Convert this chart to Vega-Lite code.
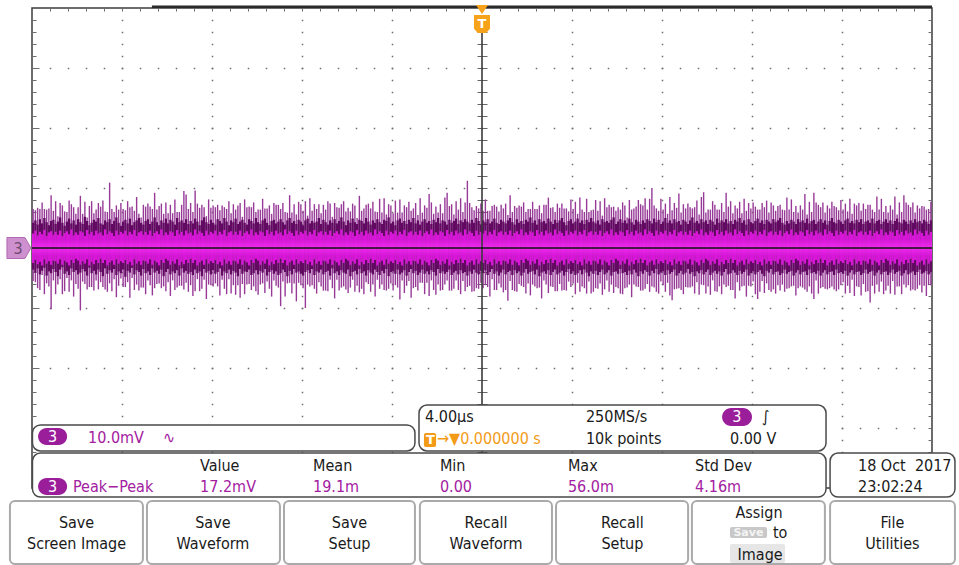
{
"$schema":"https://vega.github.io/schema/vega-lite/v6.json",
"width":900,"height":480,
"autosize":{"type":"none"},
"padding":{"left":32,"top":8,"right":27,"bottom":77},
"background":"#ffffff",
"config":{"view":{"stroke":"#3c3c3c","strokeWidth":1.5},"axis":{"labels":false,"domain":false,"ticks":false,"grid":false}},
"resolve":{"axis":{"x":"independent","y":"independent"}},
"datasets":{
"wave":[
{"t":-19.95,"a":6.5,"b":-5.5,"c":4.2,"d":-3.6,"e":2.4,"f":-2.5},{"t":-19.85,"a":6.3,"b":-5.7,"c":4.6,"d":-4.1,"e":2.9,"f":-2.0},{"t":-19.75,"a":6.7,"b":-6.7,"c":3.9,"d":-3.4,"e":2.1,"f":-2.7},{"t":-19.65,"a":6.5,"b":-7.0,"c":4.8,"d":-4.4,"e":2.7,"f":-2.3},{"t":-19.55,"a":7.6,"b":-4.5,"c":4.1,"d":-3.8,"e":2.3,"f":-2.9},{"t":-19.45,"a":6.5,"b":-7.7,"c":5.0,"d":-3.3,"e":3.0,"f":-1.9},{"t":-19.35,"a":6.4,"b":-5.9,"c":4.3,"d":-4.6,"e":2.0,"f":-2.6},{"t":-19.25,"a":6.6,"b":-6.4,"c":3.8,"d":-3.9,"e":2.6,"f":-2.2},{"t":-19.15,"a":8.8,"b":-10.2,"c":4.5,"d":-4.2,"e":2.8,"f":-2.8},{"t":-19.05,"a":6.2,"b":-5.4,"c":4.7,"d":-3.5,"e":2.2,"f":-2.1},
{"t":-18.95,"a":7.8,"b":-7.7,"c":4.0,"d":-4.0,"e":2.7,"f":-2.2},{"t":-18.85,"a":5.3,"b":-6.1,"c":4.4,"d":-4.7,"e":2.2,"f":-2.6},{"t":-18.75,"a":7.5,"b":-5.2,"c":5.1,"d":-3.6,"e":2.9,"f":-1.9},{"t":-18.65,"a":7.1,"b":-7.7,"c":4.2,"d":-3.2,"e":2.0,"f":-2.8},{"t":-18.55,"a":6.1,"b":-7.2,"c":3.7,"d":-4.3,"e":2.5,"f":-2.1},{"t":-18.45,"a":6.0,"b":-5.0,"c":4.4,"d":-3.9,"e":2.8,"f":-2.4},{"t":-18.35,"a":7.9,"b":-7.3,"c":4.9,"d":-4.5,"e":2.3,"f":-2.9},{"t":-18.25,"a":7.3,"b":-5.4,"c":4.1,"d":-3.4,"e":3.1,"f":-2.0},{"t":-18.15,"a":6.8,"b":-8.1,"c":4.6,"d":-4.0,"e":2.1,"f":-2.5},{"t":-18.05,"a":5.7,"b":-6.0,"c":3.9,"d":-3.7,"e":2.6,"f":-1.8},
{"t":-17.95,"a":6.8,"b":-6.8,"c":4.8,"d":-4.4,"e":2.2,"f":-2.1},{"t":-17.85,"a":8.7,"b":-10.4,"c":4.3,"d":-4.1,"e":2.8,"f":-2.8},{"t":-17.75,"a":5.7,"b":-5.6,"c":4.0,"d":-3.5,"e":2.6,"f":-2.2},{"t":-17.65,"a":7.7,"b":-6.0,"c":5.2,"d":-3.9,"e":2.0,"f":-2.6},{"t":-17.55,"a":5.1,"b":-6.9,"c":4.5,"d":-4.6,"e":3.0,"f":-1.9},{"t":-17.45,"a":7.0,"b":-6.5,"c":3.8,"d":-3.3,"e":2.3,"f":-2.9},{"t":-17.35,"a":7.8,"b":-6.5,"c":4.2,"d":-4.2,"e":2.7,"f":-2.3},{"t":-17.25,"a":5.8,"b":-7.1,"c":4.7,"d":-3.8,"e":2.1,"f":-2.7},{"t":-17.15,"a":6.4,"b":-5.4,"c":4.4,"d":-4.4,"e":2.9,"f":-2.0},{"t":-17.05,"a":7.5,"b":-6.9,"c":5.0,"d":-3.6,"e":2.4,"f":-2.5},
{"t":-16.95,"a":6.9,"b":-5.7,"c":4.1,"d":-4.0,"e":2.6,"f":-1.8},{"t":-16.85,"a":7.9,"b":-6.5,"c":3.9,"d":-4.7,"e":2.1,"f":-2.5},{"t":-16.75,"a":6.1,"b":-6.9,"c":4.6,"d":-3.4,"e":3.1,"f":-2.0},{"t":-16.65,"a":6.0,"b":-7.3,"c":4.3,"d":-4.3,"e":2.3,"f":-2.9},{"t":-16.55,"a":10.9,"b":-5.9,"c":4.8,"d":-3.7,"e":2.8,"f":-2.4},{"t":-16.45,"a":6.5,"b":-7.2,"c":4.0,"d":-4.1,"e":2.5,"f":-2.1},{"t":-16.35,"a":6.0,"b":-5.2,"c":4.5,"d":-3.5,"e":2.0,"f":-2.8},{"t":-16.25,"a":7.1,"b":-8.2,"c":5.1,"d":-4.5,"e":2.9,"f":-1.9},{"t":-16.15,"a":6.4,"b":-6.3,"c":4.2,"d":-3.9,"e":2.2,"f":-2.6},{"t":-16.05,"a":7.5,"b":-5.1,"c":3.7,"d":-4.2,"e":2.7,"f":-2.2},
{"t":-15.95,"a":6.5,"b":-6.5,"c":4.4,"d":-3.6,"e":2.4,"f":-2.5},{"t":-15.85,"a":6.3,"b":-6.5,"c":4.7,"d":-4.8,"e":2.9,"f":-2.0},{"t":-15.75,"a":7.8,"b":-5.7,"c":4.1,"d":-3.8,"e":2.1,"f":-2.7},{"t":-15.65,"a":6.8,"b":-8.3,"c":4.9,"d":-4.1,"e":2.7,"f":-2.3},{"t":-15.55,"a":6.9,"b":-5.0,"c":3.8,"d":-3.3,"e":2.3,"f":-2.9},{"t":-15.45,"a":6.2,"b":-7.0,"c":4.3,"d":-4.4,"e":3.0,"f":-1.9},{"t":-15.35,"a":8.5,"b":-6.1,"c":4.6,"d":-3.7,"e":2.0,"f":-2.6},{"t":-15.25,"a":5.7,"b":-7.1,"c":5.0,"d":-4.0,"e":2.6,"f":-2.2},{"t":-15.15,"a":5.1,"b":-6.6,"c":4.2,"d":-4.6,"e":2.8,"f":-2.8},{"t":-15.05,"a":7.2,"b":-6.6,"c":3.9,"d":-3.5,"e":2.2,"f":-2.1},
{"t":-14.95,"a":6.9,"b":-7.7,"c":4.5,"d":-4.2,"e":2.7,"f":-2.2},{"t":-14.85,"a":7.4,"b":-5.4,"c":4.8,"d":-3.9,"e":2.2,"f":-2.6},{"t":-14.75,"a":6.9,"b":-6.2,"c":4.0,"d":-4.5,"e":2.9,"f":-1.9},{"t":-14.65,"a":6.5,"b":-7.9,"c":4.4,"d":-3.4,"e":2.0,"f":-2.8},{"t":-14.55,"a":9.2,"b":-6.7,"c":5.1,"d":-4.1,"e":2.5,"f":-2.1},{"t":-14.45,"a":6.4,"b":-6.0,"c":4.3,"d":-3.8,"e":2.8,"f":-2.4},{"t":-14.35,"a":7.0,"b":-5.9,"c":3.8,"d":-4.3,"e":2.3,"f":-2.9},{"t":-14.25,"a":7.4,"b":-6.7,"c":4.6,"d":-3.6,"e":3.1,"f":-2.0},{"t":-14.15,"a":5.7,"b":-6.4,"c":4.2,"d":-4.7,"e":2.1,"f":-2.5},{"t":-14.05,"a":7.6,"b":-7.2,"c":4.9,"d":-4.0,"e":2.6,"f":-1.8},
{"t":-13.95,"a":5.8,"b":-5.7,"c":4.1,"d":-3.5,"e":2.2,"f":-2.1},{"t":-13.85,"a":7.2,"b":-8.0,"c":4.7,"d":-4.4,"e":2.8,"f":-2.8},{"t":-13.75,"a":5.8,"b":-5.4,"c":4.4,"d":-3.9,"e":2.6,"f":-2.2},{"t":-13.65,"a":8.1,"b":-7.0,"c":3.9,"d":-4.2,"e":2.0,"f":-2.6},{"t":-13.55,"a":6.0,"b":-6.6,"c":5.0,"d":-3.7,"e":3.0,"f":-1.9},{"t":-13.45,"a":6.0,"b":-6.3,"c":4.3,"d":-4.6,"e":2.3,"f":-2.9},{"t":-13.35,"a":7.2,"b":-6.3,"c":4.6,"d":-3.4,"e":2.7,"f":-2.3},{"t":-13.25,"a":9.5,"b":-6.9,"c":4.2,"d":-4.1,"e":2.1,"f":-2.7},{"t":-13.15,"a":8.9,"b":-5.8,"c":4.8,"d":-3.8,"e":2.9,"f":-2.0},{"t":-13.05,"a":6.5,"b":-7.3,"c":4.0,"d":-4.3,"e":2.4,"f":-2.5},
{"t":-12.95,"a":7.5,"b":-6.2,"c":4.5,"d":-4.0,"e":2.6,"f":-1.8},{"t":-12.85,"a":6.0,"b":-8.0,"c":4.1,"d":-4.5,"e":2.1,"f":-2.5},{"t":-12.75,"a":9.6,"b":-7.2,"c":4.9,"d":-3.6,"e":3.1,"f":-2.0},{"t":-12.65,"a":7.4,"b":-5.2,"c":4.4,"d":-4.2,"e":2.3,"f":-2.9},{"t":-12.55,"a":6.7,"b":-7.2,"c":3.8,"d":-3.9,"e":2.8,"f":-2.4},{"t":-12.45,"a":7.2,"b":-6.8,"c":4.6,"d":-4.7,"e":2.5,"f":-2.1},{"t":-12.35,"a":6.8,"b":-5.3,"c":5.1,"d":-3.5,"e":2.0,"f":-2.8},{"t":-12.25,"a":5.3,"b":-8.5,"c":4.3,"d":-4.1,"e":2.9,"f":-1.9},{"t":-12.15,"a":8.1,"b":-6.1,"c":4.0,"d":-3.8,"e":2.2,"f":-2.6},{"t":-12.05,"a":6.7,"b":-6.2,"c":4.7,"d":-4.4,"e":2.7,"f":-2.2},
{"t":-11.95,"a":7.1,"b":-6.4,"c":4.2,"d":-3.7,"e":2.4,"f":-2.5},{"t":-11.85,"a":6.8,"b":-5.9,"c":3.9,"d":-4.3,"e":2.9,"f":-2.0},{"t":-11.75,"a":7.2,"b":-6.4,"c":4.8,"d":-4.0,"e":2.1,"f":-2.7},{"t":-11.65,"a":6.3,"b":-7.9,"c":4.5,"d":-3.4,"e":2.7,"f":-2.3},{"t":-11.55,"a":7.1,"b":-5.3,"c":4.1,"d":-4.6,"e":2.3,"f":-2.9},{"t":-11.45,"a":6.8,"b":-6.8,"c":5.0,"d":-3.9,"e":3.0,"f":-1.9},{"t":-11.35,"a":6.5,"b":-7.7,"c":4.4,"d":-4.2,"e":2.0,"f":-2.6},{"t":-11.25,"a":7.8,"b":-5.2,"c":3.8,"d":-3.6,"e":2.6,"f":-2.2},{"t":-11.15,"a":5.8,"b":-7.6,"c":4.6,"d":-4.4,"e":2.8,"f":-2.8},{"t":-11.05,"a":7.3,"b":-6.2,"c":4.3,"d":-3.8,"e":2.2,"f":-2.1},
{"t":-10.95,"a":6.4,"b":-7.8,"c":4.9,"d":-4.1,"e":2.7,"f":-2.2},{"t":-10.85,"a":7.1,"b":-6.2,"c":4.0,"d":-4.7,"e":2.2,"f":-2.6},{"t":-10.75,"a":7.5,"b":-8.3,"c":4.4,"d":-3.5,"e":2.9,"f":-1.9},{"t":-10.65,"a":5.2,"b":-6.0,"c":4.7,"d":-4.3,"e":2.0,"f":-2.8},{"t":-10.55,"a":8.1,"b":-7.7,"c":4.2,"d":-3.9,"e":2.5,"f":-2.1},{"t":-10.45,"a":6.8,"b":-6.1,"c":3.9,"d":-4.0,"e":2.8,"f":-2.4},{"t":-10.35,"a":6.9,"b":-6.0,"c":4.8,"d":-3.6,"e":2.3,"f":-2.9},{"t":-10.25,"a":6.8,"b":-7.0,"c":4.5,"d":-4.5,"e":3.1,"f":-2.0},{"t":-10.15,"a":7.6,"b":-6.4,"c":4.1,"d":-4.2,"e":2.1,"f":-2.5},{"t":-10.05,"a":6.0,"b":-7.2,"c":5.0,"d":-3.7,"e":2.6,"f":-1.8},
{"t":-9.95,"a":6.4,"b":-7.8,"c":4.3,"d":-4.4,"e":2.2,"f":-2.1},{"t":-9.85,"a":6.4,"b":-6.1,"c":4.0,"d":-3.8,"e":2.8,"f":-2.8},{"t":-9.75,"a":8.2,"b":-5.9,"c":4.6,"d":-4.1,"e":2.6,"f":-2.2},{"t":-9.65,"a":6.6,"b":-7.5,"c":4.9,"d":-3.5,"e":2.0,"f":-2.6},{"t":-9.55,"a":6.6,"b":-5.6,"c":4.2,"d":-4.6,"e":3.0,"f":-1.9},{"t":-9.45,"a":7.1,"b":-6.8,"c":3.8,"d":-4.0,"e":2.3,"f":-2.9},{"t":-9.35,"a":5.7,"b":-8.1,"c":4.5,"d":-3.7,"e":2.7,"f":-2.3},{"t":-9.25,"a":7.5,"b":-5.4,"c":4.7,"d":-4.3,"e":2.1,"f":-2.7},{"t":-9.15,"a":7.2,"b":-6.3,"c":4.1,"d":-3.9,"e":2.9,"f":-2.0},{"t":-9.05,"a":7.2,"b":-6.6,"c":4.4,"d":-4.5,"e":2.4,"f":-2.5},
{"t":-8.95,"a":6.5,"b":-9.7,"c":4.8,"d":-4.2,"e":2.6,"f":-1.8},{"t":-8.85,"a":7.5,"b":-5.6,"c":4.3,"d":-3.6,"e":2.1,"f":-2.5},{"t":-8.75,"a":6.0,"b":-8.1,"c":3.9,"d":-4.0,"e":3.1,"f":-2.0},{"t":-8.65,"a":5.9,"b":-5.9,"c":4.6,"d":-4.7,"e":2.3,"f":-2.9},{"t":-8.55,"a":8.8,"b":-5.8,"c":5.0,"d":-3.8,"e":2.8,"f":-2.4},{"t":-8.45,"a":5.9,"b":-7.6,"c":4.2,"d":-4.4,"e":2.5,"f":-2.1},{"t":-8.35,"a":7.3,"b":-5.9,"c":4.5,"d":-3.5,"e":2.0,"f":-2.8},{"t":-8.25,"a":5.6,"b":-8.9,"c":4.0,"d":-4.1,"e":2.9,"f":-1.9},{"t":-8.15,"a":7.7,"b":-5.8,"c":4.7,"d":-3.9,"e":2.2,"f":-2.6},{"t":-8.05,"a":7.3,"b":-6.2,"c":4.4,"d":-4.3,"e":2.7,"f":-2.2},
{"t":-7.95,"a":6.2,"b":-6.7,"c":3.8,"d":-4.6,"e":2.4,"f":-2.5},{"t":-7.85,"a":7.8,"b":-10.0,"c":4.6,"d":-4.0,"e":2.9,"f":-2.0},{"t":-7.75,"a":5.4,"b":-6.1,"c":4.9,"d":-3.7,"e":2.1,"f":-2.7},{"t":-7.65,"a":8.3,"b":-6.4,"c":4.1,"d":-4.2,"e":2.7,"f":-2.3},{"t":-7.55,"a":6.2,"b":-6.2,"c":4.5,"d":-3.5,"e":2.3,"f":-2.9},{"t":-7.45,"a":7.3,"b":-6.8,"c":4.2,"d":-4.5,"e":3.0,"f":-1.9},{"t":-7.35,"a":6.5,"b":-7.6,"c":4.4,"d":-3.9,"e":2.0,"f":-2.6},{"t":-7.25,"a":7.3,"b":-5.7,"c":5.0,"d":-4.1,"e":2.6,"f":-2.2},{"t":-7.15,"a":5.8,"b":-6.4,"c":4.0,"d":-3.6,"e":2.8,"f":-2.8},{"t":-7.05,"a":7.2,"b":-7.1,"c":4.7,"d":-4.4,"e":2.2,"f":-2.1},
{"t":-6.95,"a":6.4,"b":-7.1,"c":4.3,"d":-4.0,"e":2.7,"f":-2.2},{"t":-6.85,"a":7.8,"b":-7.2,"c":3.9,"d":-3.8,"e":2.2,"f":-2.6},{"t":-6.75,"a":7.4,"b":-5.3,"c":4.6,"d":-4.6,"e":2.9,"f":-1.9},{"t":-6.65,"a":5.2,"b":-6.7,"c":4.2,"d":-3.4,"e":2.0,"f":-2.8},{"t":-6.55,"a":7.5,"b":-8.4,"c":4.8,"d":-4.2,"e":2.5,"f":-2.1},{"t":-6.45,"a":6.8,"b":-5.3,"c":4.1,"d":-3.9,"e":2.8,"f":-2.4},{"t":-6.35,"a":6.7,"b":-7.1,"c":4.5,"d":-4.5,"e":2.3,"f":-2.9},{"t":-6.25,"a":7.3,"b":-6.6,"c":5.1,"d":-3.7,"e":3.1,"f":-2.0},{"t":-6.15,"a":7.8,"b":-6.4,"c":4.4,"d":-4.1,"e":2.1,"f":-2.5},{"t":-6.05,"a":6.1,"b":-6.9,"c":3.8,"d":-4.3,"e":2.6,"f":-1.8},
{"t":-5.95,"a":6.7,"b":-7.5,"c":4.6,"d":-3.6,"e":2.2,"f":-2.1},{"t":-5.85,"a":6.1,"b":-6.6,"c":4.2,"d":-4.7,"e":2.8,"f":-2.8},{"t":-5.75,"a":7.4,"b":-5.3,"c":4.9,"d":-4.0,"e":2.6,"f":-2.2},{"t":-5.65,"a":7.1,"b":-7.3,"c":4.3,"d":-3.8,"e":2.0,"f":-2.6},{"t":-5.55,"a":5.0,"b":-6.3,"c":4.0,"d":-4.4,"e":3.0,"f":-1.9},{"t":-5.45,"a":8.7,"b":-7.4,"c":4.7,"d":-3.5,"e":2.3,"f":-2.9},{"t":-5.35,"a":6.2,"b":-6.8,"c":4.5,"d":-4.2,"e":2.7,"f":-2.3},{"t":-5.25,"a":6.6,"b":-7.7,"c":4.1,"d":-3.9,"e":2.1,"f":-2.7},{"t":-5.15,"a":7.2,"b":-5.7,"c":5.0,"d":-4.6,"e":2.9,"f":-2.0},{"t":-5.05,"a":7.4,"b":-6.0,"c":4.4,"d":-3.7,"e":2.4,"f":-2.5},
{"t":-4.95,"a":6.6,"b":-7.3,"c":3.9,"d":-4.1,"e":2.6,"f":-1.8},{"t":-4.85,"a":7.7,"b":-6.1,"c":4.6,"d":-4.4,"e":2.1,"f":-2.5},{"t":-4.75,"a":6.1,"b":-8.1,"c":4.2,"d":-3.6,"e":3.1,"f":-2.0},{"t":-4.65,"a":6.0,"b":-5.3,"c":4.8,"d":-4.0,"e":2.3,"f":-2.9},{"t":-4.55,"a":8.2,"b":-6.8,"c":4.3,"d":-4.5,"e":2.8,"f":-2.4},{"t":-4.45,"a":5.9,"b":-6.1,"c":4.0,"d":-3.8,"e":2.5,"f":-2.1},{"t":-4.35,"a":8.3,"b":-7.0,"c":4.7,"d":-4.2,"e":2.0,"f":-2.8},{"t":-4.25,"a":5.6,"b":-7.1,"c":4.5,"d":-3.5,"e":2.9,"f":-1.9},{"t":-4.15,"a":7.3,"b":-6.8,"c":5.1,"d":-4.7,"e":2.2,"f":-2.6},{"t":-4.05,"a":7.1,"b":-5.9,"c":4.1,"d":-4.0,"e":2.7,"f":-2.2},
{"t":-3.95,"a":5.8,"b":-7.1,"c":4.4,"d":-3.9,"e":2.4,"f":-2.5},{"t":-3.85,"a":7.9,"b":-6.2,"c":3.8,"d":-4.3,"e":2.9,"f":-2.0},{"t":-3.75,"a":5.9,"b":-6.6,"c":4.6,"d":-3.6,"e":2.1,"f":-2.7},{"t":-3.65,"a":8.1,"b":-8.6,"c":4.9,"d":-4.4,"e":2.7,"f":-2.3},{"t":-3.55,"a":5.9,"b":-5.4,"c":4.2,"d":-4.1,"e":2.3,"f":-2.9},{"t":-3.45,"a":7.1,"b":-7.5,"c":4.5,"d":-3.7,"e":3.0,"f":-1.9},{"t":-3.35,"a":6.8,"b":-6.3,"c":4.0,"d":-4.6,"e":2.0,"f":-2.6},{"t":-3.25,"a":7.7,"b":-5.5,"c":4.7,"d":-4.0,"e":2.6,"f":-2.2},{"t":-3.15,"a":6.2,"b":-8.3,"c":4.3,"d":-3.5,"e":2.8,"f":-2.8},{"t":-3.05,"a":6.6,"b":-6.7,"c":5.0,"d":-4.2,"e":2.2,"f":-2.1},
{"t":-2.95,"a":7.5,"b":-6.5,"c":4.1,"d":-3.8,"e":2.7,"f":-2.2},{"t":-2.85,"a":5.5,"b":-7.1,"c":4.6,"d":-4.5,"e":2.2,"f":-2.6},{"t":-2.75,"a":8.3,"b":-5.8,"c":3.9,"d":-4.1,"e":2.9,"f":-1.9},{"t":-2.65,"a":5.9,"b":-5.8,"c":4.4,"d":-3.6,"e":2.0,"f":-2.8},{"t":-2.55,"a":7.1,"b":-7.7,"c":4.8,"d":-4.3,"e":2.5,"f":-2.1},{"t":-2.45,"a":6.7,"b":-5.8,"c":4.2,"d":-3.9,"e":2.8,"f":-2.4},{"t":-2.35,"a":9.0,"b":-8.0,"c":4.5,"d":-4.4,"e":2.3,"f":-2.9},{"t":-2.25,"a":7.6,"b":-5.4,"c":4.0,"d":-3.7,"e":3.1,"f":-2.0},{"t":-2.15,"a":5.7,"b":-7.0,"c":4.7,"d":-4.0,"e":2.1,"f":-2.5},{"t":-2.05,"a":6.9,"b":-7.8,"c":4.3,"d":-4.6,"e":2.6,"f":-1.8},
{"t":-1.95,"a":5.9,"b":-6.1,"c":5.0,"d":-3.5,"e":2.2,"f":-2.1},{"t":-1.85,"a":7.3,"b":-7.1,"c":4.1,"d":-4.2,"e":2.8,"f":-2.8},{"t":-1.75,"a":5.8,"b":-7.0,"c":4.6,"d":-3.9,"e":2.6,"f":-2.2},{"t":-1.65,"a":8.4,"b":-6.1,"c":4.4,"d":-4.3,"e":2.0,"f":-2.6},{"t":-1.55,"a":9.2,"b":-5.4,"c":3.9,"d":-4.0,"e":3.0,"f":-1.9},{"t":-1.45,"a":7.0,"b":-7.1,"c":4.7,"d":-3.6,"e":2.3,"f":-2.9},{"t":-1.35,"a":7.3,"b":-7.1,"c":4.2,"d":-4.5,"e":2.7,"f":-2.3},{"t":-1.25,"a":5.6,"b":-6.8,"c":4.5,"d":-4.1,"e":2.1,"f":-2.7},{"t":-1.15,"a":7.8,"b":-5.4,"c":4.9,"d":-3.8,"e":2.9,"f":-2.0},{"t":-1.05,"a":6.4,"b":-7.0,"c":4.0,"d":-4.4,"e":2.4,"f":-2.5},
{"t":-0.95,"a":8.3,"b":-7.7,"c":4.6,"d":-3.7,"e":2.6,"f":-1.8},{"t":-0.85,"a":6.0,"b":-5.5,"c":4.3,"d":-4.2,"e":2.1,"f":-2.5},{"t":-0.75,"a":7.6,"b":-7.2,"c":4.8,"d":-4.0,"e":3.1,"f":-2.0},{"t":-0.65,"a":11.2,"b":-6.5,"c":4.4,"d":-4.6,"e":2.3,"f":-2.9},{"t":-0.55,"a":7.5,"b":-6.3,"c":4.1,"d":-3.9,"e":2.8,"f":-2.4},{"t":-0.45,"a":6.8,"b":-7.3,"c":4.7,"d":-4.3,"e":2.5,"f":-2.1},{"t":-0.35,"a":6.3,"b":-7.2,"c":4.2,"d":-3.6,"e":2.0,"f":-2.8},{"t":-0.25,"a":7.0,"b":-6.7,"c":5.0,"d":-4.1,"e":2.9,"f":-1.9},{"t":-0.15,"a":6.6,"b":-6.8,"c":4.5,"d":-4.4,"e":2.2,"f":-2.6},{"t":-0.05,"a":7.4,"b":-5.8,"c":3.9,"d":-3.8,"e":2.7,"f":-2.2},
{"t":0.05,"a":6.2,"b":-6.7,"c":4.6,"d":-4.2,"e":2.4,"f":-2.5},{"t":0.15,"a":8.1,"b":-6.2,"c":4.3,"d":-3.7,"e":2.9,"f":-2.0},{"t":0.25,"a":6.2,"b":-6.5,"c":4.8,"d":-4.5,"e":2.1,"f":-2.7},{"t":0.35,"a":6.2,"b":-8.1,"c":4.1,"d":-4.0,"e":2.7,"f":-2.3},{"t":0.45,"a":7.0,"b":-5.2,"c":4.4,"d":-3.5,"e":2.3,"f":-2.9},{"t":0.55,"a":7.2,"b":-7.0,"c":4.9,"d":-4.3,"e":3.0,"f":-1.9},{"t":0.65,"a":6.9,"b":-7.0,"c":4.2,"d":-3.9,"e":2.0,"f":-2.6},{"t":0.75,"a":6.1,"b":-5.9,"c":4.0,"d":-4.6,"e":2.6,"f":-2.2},{"t":0.85,"a":7.2,"b":-6.6,"c":4.7,"d":-4.1,"e":2.8,"f":-2.8},{"t":0.95,"a":6.6,"b":-7.4,"c":4.4,"d":-3.6,"e":2.2,"f":-2.1},
{"t":1.05,"a":7.4,"b":-7.0,"c":4.1,"d":-4.4,"e":2.7,"f":-2.2},{"t":1.15,"a":5.5,"b":-8.8,"c":4.6,"d":-4.0,"e":2.2,"f":-2.6},{"t":1.25,"a":8.8,"b":-5.5,"c":5.0,"d":-3.8,"e":2.9,"f":-1.9},{"t":1.35,"a":6.0,"b":-7.0,"c":4.3,"d":-4.5,"e":2.0,"f":-2.8},{"t":1.45,"a":7.0,"b":-7.2,"c":3.9,"d":-3.7,"e":2.5,"f":-2.1},{"t":1.55,"a":6.7,"b":-7.3,"c":4.8,"d":-4.2,"e":2.8,"f":-2.4},{"t":1.65,"a":7.1,"b":-6.0,"c":4.2,"d":-3.9,"e":2.3,"f":-2.9},{"t":1.75,"a":6.9,"b":-6.3,"c":4.5,"d":-4.6,"e":3.1,"f":-2.0},{"t":1.85,"a":7.6,"b":-6.5,"c":4.0,"d":-4.1,"e":2.1,"f":-2.5},{"t":1.95,"a":6.0,"b":-7.6,"c":4.7,"d":-3.5,"e":2.6,"f":-1.8},
{"t":2.05,"a":6.5,"b":-5.9,"c":4.4,"d":-4.3,"e":2.2,"f":-2.1},{"t":2.15,"a":6.5,"b":-7.9,"c":5.1,"d":-4.0,"e":2.8,"f":-2.8},{"t":2.25,"a":7.7,"b":-6.1,"c":4.2,"d":-3.8,"e":2.6,"f":-2.2},{"t":2.35,"a":6.5,"b":-6.4,"c":4.6,"d":-4.4,"e":2.0,"f":-2.6},{"t":2.45,"a":6.5,"b":-6.7,"c":3.9,"d":-3.6,"e":3.0,"f":-1.9},{"t":2.55,"a":7.1,"b":-6.6,"c":4.8,"d":-4.7,"e":2.3,"f":-2.9},{"t":2.65,"a":5.8,"b":-8.4,"c":4.3,"d":-4.1,"e":2.7,"f":-2.3},{"t":2.75,"a":7.2,"b":-5.4,"c":4.5,"d":-3.9,"e":2.1,"f":-2.7},{"t":2.85,"a":7.2,"b":-6.1,"c":4.1,"d":-4.3,"e":2.9,"f":-2.0},{"t":2.95,"a":8.4,"b":-7.5,"c":4.9,"d":-3.7,"e":2.4,"f":-2.5},
{"t":3.05,"a":6.7,"b":-6.4,"c":4.4,"d":-4.5,"e":2.6,"f":-1.8},{"t":3.15,"a":6.8,"b":-6.5,"c":4.0,"d":-4.0,"e":2.1,"f":-2.5},{"t":3.25,"a":6.0,"b":-7.2,"c":4.7,"d":-3.6,"e":3.1,"f":-2.0},{"t":3.35,"a":7.4,"b":-7.2,"c":4.2,"d":-4.4,"e":2.3,"f":-2.9},{"t":3.45,"a":6.7,"b":-6.0,"c":4.6,"d":-4.1,"e":2.8,"f":-2.4},{"t":3.55,"a":7.4,"b":-7.1,"c":5.0,"d":-3.8,"e":2.5,"f":-2.1},{"t":3.65,"a":6.6,"b":-7.0,"c":4.3,"d":-4.6,"e":2.0,"f":-2.8},{"t":3.75,"a":6.6,"b":-7.1,"c":3.8,"d":-4.0,"e":2.9,"f":-1.9},{"t":3.85,"a":6.1,"b":-5.6,"c":4.5,"d":-3.5,"e":2.2,"f":-2.6},{"t":3.95,"a":8.1,"b":-6.5,"c":4.8,"d":-4.3,"e":2.7,"f":-2.2},
{"t":4.05,"a":6.5,"b":-5.9,"c":4.1,"d":-3.9,"e":2.4,"f":-2.5},{"t":4.15,"a":7.7,"b":-7.7,"c":4.4,"d":-4.5,"e":2.9,"f":-2.0},{"t":4.25,"a":5.7,"b":-5.8,"c":4.9,"d":-4.2,"e":2.1,"f":-2.7},{"t":4.35,"a":8.4,"b":-7.3,"c":4.2,"d":-3.7,"e":2.7,"f":-2.3},{"t":4.45,"a":6.4,"b":-6.4,"c":4.6,"d":-4.4,"e":2.3,"f":-2.9},{"t":4.55,"a":6.0,"b":-6.7,"c":4.0,"d":-3.6,"e":3.0,"f":-1.9},{"t":4.65,"a":8.2,"b":-7.6,"c":4.7,"d":-4.1,"e":2.0,"f":-2.6},{"t":4.75,"a":6.0,"b":-5.6,"c":4.3,"d":-4.7,"e":2.6,"f":-2.2},{"t":4.85,"a":6.3,"b":-7.6,"c":5.0,"d":-3.9,"e":2.8,"f":-2.8},{"t":4.95,"a":6.4,"b":-7.3,"c":4.4,"d":-4.3,"e":2.2,"f":-2.1},
{"t":5.05,"a":8.0,"b":-6.7,"c":4.1,"d":-3.8,"e":2.7,"f":-2.2},{"t":5.15,"a":6.2,"b":-6.8,"c":4.6,"d":-4.5,"e":2.2,"f":-2.6},{"t":5.25,"a":7.8,"b":-5.9,"c":3.9,"d":-4.0,"e":2.9,"f":-1.9},{"t":5.35,"a":5.4,"b":-7.8,"c":4.8,"d":-3.6,"e":2.0,"f":-2.8},{"t":5.45,"a":8.3,"b":-6.9,"c":4.3,"d":-4.4,"e":2.5,"f":-2.1},{"t":5.55,"a":6.8,"b":-5.4,"c":4.5,"d":-4.1,"e":2.8,"f":-2.4},{"t":5.65,"a":7.2,"b":-7.3,"c":4.2,"d":-3.7,"e":2.3,"f":-2.9},{"t":5.75,"a":6.8,"b":-6.1,"c":4.7,"d":-4.6,"e":3.1,"f":-2.0},{"t":5.85,"a":6.9,"b":-7.5,"c":5.1,"d":-4.0,"e":2.1,"f":-2.5},{"t":5.95,"a":6.2,"b":-6.5,"c":4.0,"d":-3.9,"e":2.6,"f":-1.8},
{"t":6.05,"a":6.8,"b":-6.7,"c":4.4,"d":-4.3,"e":2.2,"f":-2.1},{"t":6.15,"a":6.4,"b":-7.6,"c":4.8,"d":-3.5,"e":2.8,"f":-2.8},{"t":6.25,"a":7.6,"b":-7.7,"c":4.2,"d":-4.2,"e":2.6,"f":-2.2},{"t":6.35,"a":7.1,"b":-6.7,"c":4.6,"d":-4.0,"e":2.0,"f":-2.6},{"t":6.45,"a":5.1,"b":-6.6,"c":4.1,"d":-4.5,"e":3.0,"f":-1.9},{"t":6.55,"a":8.0,"b":-6.1,"c":4.9,"d":-3.8,"e":2.3,"f":-2.9},{"t":6.65,"a":6.4,"b":-8.2,"c":4.3,"d":-4.4,"e":2.7,"f":-2.3},{"t":6.75,"a":6.6,"b":-6.1,"c":3.9,"d":-3.6,"e":2.1,"f":-2.7},{"t":6.85,"a":6.9,"b":-6.4,"c":4.7,"d":-4.1,"e":2.9,"f":-2.0},{"t":6.95,"a":8.0,"b":-6.5,"c":4.4,"d":-4.7,"e":2.4,"f":-2.5},
{"t":7.05,"a":7.3,"b":-7.1,"c":4.0,"d":-3.9,"e":2.6,"f":-1.8},{"t":7.15,"a":7.1,"b":-7.1,"c":4.6,"d":-4.3,"e":2.1,"f":-2.5},{"t":7.25,"a":8.3,"b":-6.8,"c":4.2,"d":-3.7,"e":3.1,"f":-2.0},{"t":7.35,"a":6.4,"b":-6.0,"c":4.8,"d":-4.0,"e":2.3,"f":-2.9},{"t":7.45,"a":8.2,"b":-7.3,"c":4.5,"d":-4.6,"e":2.8,"f":-2.4},{"t":7.55,"a":10.0,"b":-6.4,"c":4.1,"d":-3.8,"e":2.5,"f":-2.1},{"t":7.65,"a":7.1,"b":-6.6,"c":4.9,"d":-4.2,"e":2.0,"f":-2.8},{"t":7.75,"a":6.6,"b":-7.3,"c":4.3,"d":-3.5,"e":2.9,"f":-1.9},{"t":7.85,"a":6.2,"b":-7.6,"c":4.7,"d":-4.4,"e":2.2,"f":-2.6},{"t":7.95,"a":8.2,"b":-5.6,"c":4.0,"d":-4.1,"e":2.7,"f":-2.2},
{"t":8.05,"a":6.4,"b":-6.2,"c":4.4,"d":-3.9,"e":2.4,"f":-2.5},{"t":8.15,"a":7.4,"b":-7.3,"c":5.0,"d":-4.5,"e":2.9,"f":-2.0},{"t":8.25,"a":5.7,"b":-5.8,"c":4.2,"d":-3.7,"e":2.1,"f":-2.7},{"t":8.35,"a":8.5,"b":-7.9,"c":4.6,"d":-4.3,"e":2.7,"f":-2.3},{"t":8.45,"a":6.3,"b":-8.7,"c":4.1,"d":-4.0,"e":2.3,"f":-2.9},{"t":8.55,"a":7.5,"b":-6.9,"c":4.8,"d":-3.6,"e":3.0,"f":-1.9},{"t":8.65,"a":6.7,"b":-6.8,"c":4.3,"d":-4.6,"e":2.0,"f":-2.6},{"t":8.75,"a":9.1,"b":-6.7,"c":4.5,"d":-4.2,"e":2.6,"f":-2.2},{"t":8.85,"a":5.9,"b":-7.0,"c":3.9,"d":-3.8,"e":2.8,"f":-2.8},{"t":8.95,"a":7.3,"b":-7.7,"c":4.7,"d":-4.4,"e":2.2,"f":-2.1},
{"t":9.05,"a":6.6,"b":-6.5,"c":4.4,"d":-4.1,"e":2.7,"f":-2.2},{"t":9.15,"a":7.4,"b":-6.6,"c":4.0,"d":-3.5,"e":2.2,"f":-2.6},{"t":9.25,"a":6.8,"b":-6.6,"c":4.6,"d":-4.3,"e":2.9,"f":-1.9},{"t":9.35,"a":6.6,"b":-6.4,"c":5.1,"d":-4.0,"e":2.0,"f":-2.8},{"t":9.45,"a":6.8,"b":-7.6,"c":4.2,"d":-4.7,"e":2.5,"f":-2.1},{"t":9.55,"a":7.9,"b":-5.7,"c":4.5,"d":-3.9,"e":2.8,"f":-2.4},{"t":9.65,"a":5.6,"b":-7.8,"c":4.1,"d":-4.2,"e":2.3,"f":-2.9},{"t":9.75,"a":8.5,"b":-6.1,"c":4.8,"d":-3.7,"e":3.1,"f":-2.0},{"t":9.85,"a":9.3,"b":-6.2,"c":4.3,"d":-4.4,"e":2.1,"f":-2.5},{"t":9.95,"a":5.9,"b":-7.6,"c":4.6,"d":-4.0,"e":2.6,"f":-1.8},
{"t":10.05,"a":6.4,"b":-6.4,"c":4.0,"d":-3.6,"e":2.2,"f":-2.1},{"t":10.15,"a":6.4,"b":-7.8,"c":4.7,"d":-4.5,"e":2.8,"f":-2.8},{"t":10.25,"a":7.8,"b":-5.4,"c":4.4,"d":-4.1,"e":2.6,"f":-2.2},{"t":10.35,"a":7.2,"b":-7.2,"c":3.9,"d":-3.8,"e":2.0,"f":-2.6},{"t":10.45,"a":6.4,"b":-7.3,"c":4.9,"d":-4.3,"e":3.0,"f":-1.9},{"t":10.55,"a":6.4,"b":-6.4,"c":4.2,"d":-3.9,"e":2.3,"f":-2.9},{"t":10.65,"a":7.5,"b":-7.7,"c":4.6,"d":-4.6,"e":2.7,"f":-2.3},{"t":10.75,"a":6.0,"b":-6.1,"c":4.3,"d":-4.0,"e":2.1,"f":-2.7},{"t":10.85,"a":9.2,"b":-6.5,"c":4.8,"d":-3.5,"e":2.9,"f":-2.0},{"t":10.95,"a":6.9,"b":-6.3,"c":4.1,"d":-4.4,"e":2.4,"f":-2.5},
{"t":11.05,"a":7.8,"b":-7.0,"c":4.5,"d":-4.2,"e":2.6,"f":-1.8},{"t":11.15,"a":5.8,"b":-7.0,"c":4.0,"d":-3.7,"e":2.1,"f":-2.5},{"t":11.25,"a":7.1,"b":-8.4,"c":4.7,"d":-4.1,"e":3.1,"f":-2.0},{"t":11.35,"a":6.6,"b":-5.7,"c":4.4,"d":-4.5,"e":2.3,"f":-2.9},{"t":11.45,"a":7.7,"b":-7.1,"c":5.0,"d":-3.8,"e":2.8,"f":-2.4},{"t":11.55,"a":5.8,"b":-6.4,"c":4.2,"d":-4.3,"e":2.5,"f":-2.1},{"t":11.65,"a":8.2,"b":-6.3,"c":4.6,"d":-4.0,"e":2.0,"f":-2.8},{"t":11.75,"a":6.2,"b":-8.1,"c":3.9,"d":-3.6,"e":2.9,"f":-1.9},{"t":11.85,"a":7.5,"b":-6.3,"c":4.8,"d":-4.6,"e":2.2,"f":-2.6},{"t":11.95,"a":6.6,"b":-6.4,"c":4.3,"d":-4.2,"e":2.7,"f":-2.2},
{"t":12.05,"a":7.6,"b":-5.6,"c":4.1,"d":-3.9,"e":2.4,"f":-2.5},{"t":12.15,"a":6.9,"b":-7.7,"c":4.5,"d":-4.4,"e":2.9,"f":-2.0},{"t":12.25,"a":6.4,"b":-8.5,"c":4.9,"d":-4.0,"e":2.1,"f":-2.7},{"t":12.35,"a":6.4,"b":-7.3,"c":4.2,"d":-3.7,"e":2.7,"f":-2.3},{"t":12.45,"a":7.5,"b":-5.5,"c":4.6,"d":-4.3,"e":2.3,"f":-2.9},{"t":12.55,"a":6.8,"b":-7.5,"c":4.0,"d":-4.7,"e":3.0,"f":-1.9},{"t":12.65,"a":7.9,"b":-5.9,"c":4.7,"d":-3.8,"e":2.0,"f":-2.6},{"t":12.75,"a":5.9,"b":-7.0,"c":4.4,"d":-4.1,"e":2.6,"f":-2.2},{"t":12.85,"a":7.6,"b":-7.3,"c":4.1,"d":-3.5,"e":2.8,"f":-2.8},{"t":12.95,"a":7.1,"b":-6.9,"c":4.8,"d":-4.4,"e":2.2,"f":-2.1},
{"t":13.05,"a":6.2,"b":-7.6,"c":4.3,"d":-4.0,"e":2.7,"f":-2.2},{"t":13.15,"a":7.0,"b":-6.2,"c":4.6,"d":-3.9,"e":2.2,"f":-2.6},{"t":13.25,"a":7.2,"b":-7.1,"c":5.0,"d":-4.5,"e":2.9,"f":-1.9},{"t":13.35,"a":6.4,"b":-6.1,"c":4.2,"d":-4.2,"e":2.0,"f":-2.8},{"t":13.45,"a":6.3,"b":-7.3,"c":3.9,"d":-3.6,"e":2.5,"f":-2.1},{"t":13.55,"a":8.4,"b":-6.8,"c":4.5,"d":-4.3,"e":2.8,"f":-2.4},{"t":13.65,"a":6.4,"b":-6.7,"c":4.1,"d":-4.0,"e":2.3,"f":-2.9},{"t":13.75,"a":8.1,"b":-6.4,"c":4.7,"d":-3.8,"e":3.1,"f":-2.0},{"t":13.85,"a":6.0,"b":-6.3,"c":4.4,"d":-4.6,"e":2.1,"f":-2.5},{"t":13.95,"a":7.0,"b":-7.9,"c":4.0,"d":-4.1,"e":2.6,"f":-1.8},
{"t":14.05,"a":5.9,"b":-6.7,"c":4.8,"d":-3.7,"e":2.2,"f":-2.1},{"t":14.15,"a":7.1,"b":-6.4,"c":4.3,"d":-4.4,"e":2.8,"f":-2.8},{"t":14.25,"a":6.4,"b":-6.6,"c":4.6,"d":-4.0,"e":2.6,"f":-2.2},{"t":14.35,"a":9.0,"b":-6.9,"c":4.2,"d":-3.9,"e":2.0,"f":-2.6},{"t":14.45,"a":5.6,"b":-7.3,"c":4.9,"d":-4.5,"e":3.0,"f":-1.9},{"t":14.55,"a":7.7,"b":-6.4,"c":4.1,"d":-3.6,"e":2.3,"f":-2.9},{"t":14.65,"a":6.0,"b":-7.6,"c":4.5,"d":-4.2,"e":2.7,"f":-2.3},{"t":14.75,"a":9.2,"b":-8.5,"c":4.7,"d":-4.0,"e":2.1,"f":-2.7},{"t":14.85,"a":7.6,"b":-5.4,"c":4.0,"d":-4.3,"e":2.9,"f":-2.0},{"t":14.95,"a":7.2,"b":-7.6,"c":4.4,"d":-3.8,"e":2.4,"f":-2.5},
{"t":15.05,"a":6.8,"b":-6.7,"c":4.8,"d":-4.6,"e":2.6,"f":-1.8},{"t":15.15,"a":7.6,"b":-6.5,"c":4.2,"d":-4.1,"e":2.1,"f":-2.5},{"t":15.25,"a":5.9,"b":-6.8,"c":4.6,"d":-3.7,"e":3.1,"f":-2.0},{"t":15.35,"a":7.1,"b":-6.9,"c":3.9,"d":-4.4,"e":2.3,"f":-2.9},{"t":15.45,"a":6.6,"b":-6.7,"c":4.5,"d":-4.0,"e":2.8,"f":-2.4},{"t":15.55,"a":7.7,"b":-6.4,"c":5.0,"d":-3.9,"e":2.5,"f":-2.1},{"t":15.65,"a":7.0,"b":-6.9,"c":4.3,"d":-4.5,"e":2.0,"f":-2.8},{"t":15.75,"a":6.8,"b":-7.2,"c":4.1,"d":-3.6,"e":2.9,"f":-1.9},{"t":15.85,"a":6.3,"b":-6.9,"c":4.7,"d":-4.2,"e":2.2,"f":-2.6},{"t":15.95,"a":8.0,"b":-6.2,"c":4.4,"d":-4.0,"e":2.7,"f":-2.2},
{"t":16.05,"a":6.4,"b":-5.7,"c":4.0,"d":-4.3,"e":2.4,"f":-2.5},{"t":16.15,"a":7.4,"b":-7.6,"c":4.6,"d":-3.8,"e":2.9,"f":-2.0},{"t":16.25,"a":6.1,"b":-6.3,"c":4.9,"d":-4.6,"e":2.1,"f":-2.7},{"t":16.35,"a":8.2,"b":-7.5,"c":4.2,"d":-4.1,"e":2.7,"f":-2.3},{"t":16.45,"a":5.7,"b":-5.3,"c":4.5,"d":-3.7,"e":2.3,"f":-2.9},{"t":16.55,"a":7.4,"b":-8.0,"c":4.1,"d":-4.4,"e":3.0,"f":-1.9},{"t":16.65,"a":7.1,"b":-6.4,"c":4.7,"d":-4.0,"e":2.0,"f":-2.6},{"t":16.75,"a":7.5,"b":-6.5,"c":4.3,"d":-3.9,"e":2.6,"f":-2.2},{"t":16.85,"a":6.2,"b":-7.9,"c":4.8,"d":-4.5,"e":2.8,"f":-2.8},{"t":16.95,"a":7.4,"b":-6.0,"c":4.0,"d":-4.2,"e":2.2,"f":-2.1},
{"t":17.05,"a":6.5,"b":-7.3,"c":4.4,"d":-3.6,"e":2.7,"f":-2.2},{"t":17.15,"a":7.2,"b":-7.2,"c":4.6,"d":-4.3,"e":2.2,"f":-2.6},{"t":17.25,"a":7.2,"b":-9.1,"c":4.2,"d":-4.0,"e":2.9,"f":-1.9},{"t":17.35,"a":6.4,"b":-6.3,"c":4.9,"d":-3.8,"e":2.0,"f":-2.8},{"t":17.45,"a":6.0,"b":-7.6,"c":4.1,"d":-4.6,"e":2.5,"f":-2.1},{"t":17.55,"a":8.6,"b":-6.1,"c":4.5,"d":-4.1,"e":2.8,"f":-2.4},{"t":17.65,"a":6.4,"b":-7.3,"c":4.7,"d":-3.7,"e":2.3,"f":-2.9},{"t":17.75,"a":8.2,"b":-5.6,"c":4.0,"d":-4.4,"e":3.1,"f":-2.0},{"t":17.85,"a":6.0,"b":-7.7,"c":4.4,"d":-4.0,"e":2.1,"f":-2.5},{"t":17.95,"a":7.0,"b":-7.1,"c":4.8,"d":-3.9,"e":2.6,"f":-1.8},
{"t":18.05,"a":5.9,"b":-6.3,"c":4.2,"d":-4.5,"e":2.2,"f":-2.1},{"t":18.15,"a":7.1,"b":-7.6,"c":4.6,"d":-4.1,"e":2.8,"f":-2.8},{"t":18.25,"a":6.4,"b":-5.5,"c":4.0,"d":-3.6,"e":2.6,"f":-2.2},{"t":18.35,"a":8.6,"b":-7.8,"c":4.5,"d":-4.3,"e":2.0,"f":-2.6},{"t":18.45,"a":5.6,"b":-6.4,"c":4.9,"d":-4.0,"e":3.0,"f":-1.9},{"t":18.55,"a":7.6,"b":-6.4,"c":4.3,"d":-3.8,"e":2.3,"f":-2.9},{"t":18.65,"a":6.0,"b":-7.7,"c":4.1,"d":-4.6,"e":2.7,"f":-2.3},{"t":18.75,"a":8.8,"b":-6.1,"c":4.7,"d":-4.2,"e":2.1,"f":-2.7},{"t":18.85,"a":7.6,"b":-6.6,"c":4.4,"d":-3.7,"e":2.9,"f":-2.0},{"t":18.95,"a":7.2,"b":-6.2,"c":4.0,"d":-4.4,"e":2.4,"f":-2.5},
{"t":19.05,"a":6.8,"b":-7.1,"c":4.6,"d":-4.1,"e":2.6,"f":-1.8},{"t":19.15,"a":7.6,"b":-6.9,"c":4.2,"d":-3.9,"e":2.1,"f":-2.5},{"t":19.25,"a":5.9,"b":-7.1,"c":4.8,"d":-4.5,"e":3.1,"f":-2.0},{"t":19.35,"a":7.1,"b":-6.8,"c":4.3,"d":-4.0,"e":2.3,"f":-2.9},{"t":19.45,"a":6.6,"b":-6.2,"c":4.5,"d":-3.6,"e":2.8,"f":-2.4},{"t":19.55,"a":7.0,"b":-7.4,"c":4.1,"d":-4.3,"e":2.5,"f":-2.1},{"t":19.65,"a":6.9,"b":-6.3,"c":4.7,"d":-4.1,"e":2.0,"f":-2.8},{"t":19.75,"a":6.4,"b":-8.0,"c":4.4,"d":-3.8,"e":2.9,"f":-1.9},{"t":19.85,"a":6.5,"b":-6.2,"c":4.0,"d":-4.4,"e":2.2,"f":-2.6},{"t":19.95,"a":7.7,"b":-6.2,"c":4.6,"d":-4.0,"e":2.7,"f":-2.2}
],
"panels":[
{"t0":-19.98,"t1":-2.98,"v0":-29.5,"v1":-33.83},
{"t0":-2.8,"t1":15.29,"v0":-26.17,"v1":-33.83},
{"t0":-19.98,"t1":15.29,"v0":-34.17,"v1":-41.5},
{"t0":15.47,"t1":21.02,"v0":-34.17,"v1":-41.5}
],
"buttons":[
{"t0":-20.98,"t1":-15.07,"v0":-42.17,"v1":-52.67},
{"t0":-14.89,"t1":-8.98,"v0":-42.17,"v1":-52.67},
{"t0":-8.8,"t1":-2.98,"v0":-42.17,"v1":-52.67},
{"t0":-2.76,"t1":3.11,"v0":-42.17,"v1":-52.67},
{"t0":3.29,"t1":9.16,"v0":-42.17,"v1":-52.67},
{"t0":9.33,"t1":15.24,"v0":-42.17,"v1":-52.67},
{"t0":15.47,"t1":21.02,"v0":-42.17,"v1":-52.67}
],
"pills":[
{"t0":-19.73,"t1":-18.44,"v0":-30.0,"v1":-32.83},
{"t0":-19.73,"t1":-18.44,"v0":-38.33,"v1":-41.17},
{"t0":10.67,"t1":12.0,"v0":-26.67,"v1":-29.67}
],
"chips":[
{"t0":-2.58,"t1":-2.04,"v0":-30.83,"v1":-33.17,"g":"o"},
{"t0":11.02,"t1":12.67,"v0":-46.5,"v1":-48.33,"g":"s"},
{"t0":11.02,"t1":13.47,"v0":-49.33,"v1":-52.5,"g":"r"}
],
"labelsL":[
{"t":-17.51,"v":-31.67,"s":"10.0mV","g":"p"},
{"t":-14.18,"v":-31.67,"s":"∿","g":"p"},
{"t":-2.53,"v":-28.17,"s":"4.00µs","g":"k"},
{"t":4.62,"v":-28.17,"s":"250MS/s","g":"k"},
{"t":12.44,"v":-28.17,"s":"∫","g":"k"},
{"t":-2.0,"v":-31.83,"s":"→▼0.000000 s","g":"o"},
{"t":4.62,"v":-31.83,"s":"10k points","g":"k"},
{"t":11.02,"v":-31.83,"s":"0.00 V","g":"k"},
{"t":-12.53,"v":-36.33,"s":"Value","g":"k"},
{"t":-7.51,"v":-36.33,"s":"Mean","g":"k"},
{"t":-1.87,"v":-36.33,"s":"Min","g":"k"},
{"t":3.82,"v":-36.33,"s":"Max","g":"k"},
{"t":9.47,"v":-36.33,"s":"Std Dev","g":"k"},
{"t":-18.18,"v":-39.83,"s":"Peak−Peak","g":"p"},
{"t":-12.53,"v":-39.83,"s":"17.2mV","g":"p"},
{"t":-7.51,"v":-39.83,"s":"19.1m","g":"p"},
{"t":-1.87,"v":-39.83,"s":"0.00","g":"p"},
{"t":3.82,"v":-39.83,"s":"56.0m","g":"p"},
{"t":9.47,"v":-39.83,"s":"4.16m","g":"p"},
{"t":16.71,"v":-36.33,"s":"18 Oct\u00a0 2017","g":"k"},
{"t":16.71,"v":-39.83,"s":"23:02:24","g":"k"},
{"t":12.93,"v":-47.5,"s":"to","g":"k"}
],
"labelsC":[
{"t":-18.02,"v":-45.83,"s":"Save"},{"t":-18.02,"v":-49.33,"s":"Screen Image"},
{"t":-11.96,"v":-45.83,"s":"Save"},{"t":-11.96,"v":-49.33,"s":"Waveform"},
{"t":-5.89,"v":-45.83,"s":"Save"},{"t":-5.89,"v":-49.33,"s":"Setup"},
{"t":0.18,"v":-45.83,"s":"Recall"},{"t":0.18,"v":-49.33,"s":"Waveform"},
{"t":6.24,"v":-45.83,"s":"Recall"},{"t":6.24,"v":-49.33,"s":"Setup"},
{"t":12.31,"v":-44.17,"s":"Assign"},{"t":12.36,"v":-51.17,"s":"Image"},
{"t":18.24,"v":-45.83,"s":"File"},{"t":18.24,"v":-49.33,"s":"Utilities"}
],
"badge":[
{"t":-19.09,"v":-31.5,"s":"3","g":"w"},
{"t":-19.09,"v":-39.75,"s":"3","g":"w"},
{"t":11.33,"v":-28.17,"s":"3","g":"w"},
{"t":-20.62,"v":-0.1,"s":"3","g":"m"}
],
"tletters":[
{"t":0,"v":37.33,"s":"T"},
{"t":-2.29,"v":-32.0,"s":"T"}
]
},
"layer":[
{"data":{"name":"wave"},"mark":{"type":"rule","color":"#973a97","strokeWidth":1.4,"opacity":1},
 "encoding":{
  "x":{"field":"t","type":"quantitative","scale":{"domain":[-20,20],"nice":false,"zero":false},"axis":{"orient":"bottom","title":null,"grid":true,"values":[-16,-12,-8,-4,4,8,12,16],"gridColor":"#6e6e6e","gridWidth":1.5,"gridDash":[1.5,10.5],"gridDashOffset":0.75}},
  "y":{"field":"a","type":"quantitative","scale":{"domain":[-40,40],"nice":false,"zero":false},"axis":{"orient":"left","title":null,"grid":true,"values":[-30,-20,-10,10,20,30],"gridColor":"#6e6e6e","gridWidth":1.5,"gridDash":[1.5,16.5],"gridDashOffset":0.75}},
  "y2":{"field":"b"}}},
{"data":{"name":"wave"},"mark":{"type":"rule","color":"#620a62","strokeWidth":2.3},
 "encoding":{
  "x":{"field":"t","type":"quantitative","scale":{"domain":[-20,20],"nice":false,"zero":false},"axis":{"orient":"bottom","offset":-480,"title":null,"ticks":true,"tickSize":3,"tickColor":"#6e6e6e","values":[-19.2,-18.4,-17.6,-16.8,-16,-15.2,-14.4,-13.6,-12.8,-12,-11.2,-10.4,-9.6,-8.8,-8,-7.2,-6.4,-5.6,-4.8,-4,-3.2,-2.4,-1.6,-0.8,0,0.8,1.6,2.4,3.2,4,4.8,5.6,6.4,7.2,8,8.8,9.6,10.4,11.2,12,12.8,13.6,14.4,15.2,16,16.8,17.6,18.4,19.2]}},
  "y":{"field":"c","type":"quantitative","scale":{"domain":[-40,40],"nice":false,"zero":false},"axis":{"orient":"right","offset":-900,"title":null,"ticks":true,"tickSize":4,"tickColor":"#6e6e6e","values":[-38,-36,-34,-32,-30,-28,-26,-24,-22,-20,-18,-16,-14,-12,-10,-8,-6,-4,-2,0,2,4,6,8,10,12,14,16,18,20,22,24,26,28,30,32,34,36,38]}},
  "y2":{"field":"d"}}},
{"data":{"name":"wave"},"mark":{"type":"rule","color":"#d816d8","strokeWidth":2.3},
 "encoding":{
  "x":{"field":"t","type":"quantitative","axis":null},
  "y":{"field":"e","type":"quantitative","axis":null},
  "y2":{"field":"f"}}},
{"data":{"values":[{}]},"mark":{"type":"rect","opacity":0.55,"color":{"gradient":"linear","x1":0,"y1":0,"x2":0,"y2":1,"stops":[{"offset":0,"color":"#d816d8"},{"offset":0.5,"color":"#ff3cff"},{"offset":1,"color":"#d816d8"}]}},
 "encoding":{"x":{"datum":-20,"type":"quantitative","axis":null},"x2":{"datum":20},"y":{"datum":1.4,"type":"quantitative","axis":null},"y2":{"datum":-1.3}}},
{"data":{"values":[{}]},"mark":{"type":"rule","color":"#3a3a3a","strokeWidth":1.6},
 "encoding":{"x":{"datum":0,"type":"quantitative","axis":null},"y":{"datum":-40,"type":"quantitative","axis":null},"y2":{"datum":36}}},
{"data":{"values":[{}]},"mark":{"type":"rule","color":"#111111","strokeWidth":1.6},
 "encoding":{"x":{"datum":-20,"type":"quantitative","axis":null},"x2":{"datum":20},"y":{"datum":0,"type":"quantitative","axis":null}}},
{"data":{"values":[{}]},"mark":{"type":"rule","color":"#2a2a2a","strokeWidth":2.5},
 "encoding":{"x":{"datum":-14.67,"type":"quantitative","axis":null},"x2":{"datum":20},"y":{"datum":40.2,"type":"quantitative","axis":null}}},
{"data":{"name":"panels"},"mark":{"type":"rect","fill":"#ffffff","stroke":"#4a4a4a","strokeWidth":1.5,"cornerRadius":8},
 "encoding":{
  "x":{"field":"t0","type":"quantitative","scale":{"domain":[-20,20],"nice":false,"zero":false},"axis":{"orient":"bottom","offset":-244,"title":null,"ticks":true,"tickSize":8,"tickColor":"#666666","values":[-19.2,-18.4,-17.6,-16.8,-16,-15.2,-14.4,-13.6,-12.8,-12,-11.2,-10.4,-9.6,-8.8,-8,-7.2,-6.4,-5.6,-4.8,-4,-3.2,-2.4,-1.6,-0.8,0.8,1.6,2.4,3.2,4,4.8,5.6,6.4,7.2,8,8.8,9.6,10.4,11.2,12,12.8,13.6,14.4,15.2,16,16.8,17.6,18.4,19.2]}},
  "x2":{"field":"t1"},
  "y":{"field":"v0","type":"quantitative","scale":{"domain":[-40,40],"nice":false,"zero":false},"axis":{"orient":"right","offset":-455,"title":null,"ticks":true,"tickSize":10,"tickColor":"#666666","values":[-38,-36,-34,-32,-30,-28,-26,-24,-22,-20,-18,-16,-14,-12,-10,-8,-6,-4,-2,2,4,6,8,10,12,14,16,18,20,22,24,26,28,30,32,34,36,38]}},
  "y2":{"field":"v1"}}},
{"data":{"name":"buttons"},"mark":{"type":"rect","fill":"#ffffff","stroke":"#aaaaaa","strokeWidth":2,"cornerRadius":5},
 "encoding":{
  "x":{"field":"t0","type":"quantitative","axis":null},"x2":{"field":"t1"},
  "y":{"field":"v0","type":"quantitative","scale":{"domain":[-40,40],"nice":false,"zero":false},"axis":{"orient":"left","offset":-900,"title":null,"ticks":true,"tickSize":4,"tickColor":"#6e6e6e","values":[-38,-36,-34,-32,-30,-28,-26,-24,-22,-20,-18,-16,-14,-12,-10,-8,-6,-4,-2,0,2,4,6,8,10,12,14,16,18,20,22,24,26,28,30,32,34,36,38]}},
  "y2":{"field":"v1"}}},
{"data":{"name":"pills"},"mark":{"type":"rect","fill":"#9a1d9a","cornerRadius":9},
 "encoding":{
  "x":{"field":"t0","type":"quantitative","axis":null},"x2":{"field":"t1"},
  "y":{"field":"v0","type":"quantitative","scale":{"domain":[-40,40],"nice":false,"zero":false},"axis":{"orient":"right","offset":-900,"title":null,"ticks":true,"tickSize":7,"tickColor":"#6e6e6e","values":[-30,-20,-10,10,20,30]}},
  "y2":{"field":"v1"}}},
{"data":{"name":"chips"},"mark":{"type":"rect","cornerRadius":2},
 "encoding":{
  "x":{"field":"t0","type":"quantitative","axis":null},"x2":{"field":"t1"},
  "y":{"field":"v0","type":"quantitative","axis":null},"y2":{"field":"v1"},
  "color":{"field":"g","type":"nominal","legend":null,"scale":{"domain":["k","p","o","w","m","s","r"],"range":["#1a1a1a","#a3209f","#f39b17","#ffffff","#6e4a6e","#c8c8c8","#e6e6e6"]}}}},
{"data":{"name":"labelsL"},"mark":{"type":"text","align":"left","baseline":"middle","font":"DejaVu Sans Condensed, DejaVu Sans","fontSize":16},
 "encoding":{
  "x":{"field":"t","type":"quantitative","axis":null},"y":{"field":"v","type":"quantitative","axis":null},"text":{"field":"s"},
  "color":{"field":"g","type":"nominal","legend":null,"scale":{"domain":["k","p","o","w","m","s","r"],"range":["#1a1a1a","#a3209f","#f39b17","#ffffff","#6e4a6e","#c8c8c8","#e6e6e6"]}}}},
{"data":{"name":"labelsC"},"mark":{"type":"text","align":"center","baseline":"middle","font":"DejaVu Sans Condensed, DejaVu Sans","fontSize":16,"color":"#1a1a1a"},
 "encoding":{"x":{"field":"t","type":"quantitative","axis":null},"y":{"field":"v","type":"quantitative","axis":null},"text":{"field":"s"}}},
{"data":{"values":[{"t":-20.58,"v":0}]},"mark":{"type":"point","shape":"M-1,-0.875L0.5,-0.875L1,0L0.5,0.875L-1,0.875Z","size":576,"filled":true,"fill":"#cf90cf","stroke":"#b06ab0","strokeWidth":1,"opacity":1},
 "encoding":{"x":{"field":"t","type":"quantitative","axis":null},"y":{"field":"v","type":"quantitative","axis":null}}},
{"data":{"values":[{"t":0,"v":38.17}]},"mark":{"type":"point","shape":"M-0.43,-1L0.43,-1L0,-0.36Z M-0.571,-0.286L0.571,-0.286L0.571,0.7L0.3,1L-0.3,1L-0.571,0.7Z","size":784,"filled":true,"fill":"#f7a21b","strokeWidth":0,"opacity":1},
 "encoding":{"x":{"field":"t","type":"quantitative","axis":null},"y":{"field":"v","type":"quantitative","axis":null}}},
{"data":{"name":"badge"},"mark":{"type":"text","align":"center","baseline":"middle","font":"DejaVu Sans Condensed, DejaVu Sans","fontSize":16},
 "encoding":{
  "x":{"field":"t","type":"quantitative","axis":null},"y":{"field":"v","type":"quantitative","axis":null},"text":{"field":"s"},
  "color":{"field":"g","type":"nominal","legend":null,"scale":{"domain":["k","p","o","w","m","s","r"],"range":["#1a1a1a","#a3209f","#f39b17","#ffffff","#6e4a6e","#c8c8c8","#e6e6e6"]}}}},
{"data":{"name":"tletters"},"mark":{"type":"text","align":"center","baseline":"middle","font":"DejaVu Sans","fontSize":13,"fontWeight":"bold","color":"#ffffff"},
 "encoding":{"x":{"field":"t","type":"quantitative","axis":null},"y":{"field":"v","type":"quantitative","axis":null},"text":{"field":"s"}}},
{"data":{"values":[{"t":11.84,"v":-47.42,"s":"Save"}]},"mark":{"type":"text","align":"center","baseline":"middle","font":"DejaVu Sans","fontSize":11,"fontWeight":"bold","color":"#f4f4f4"},
 "encoding":{"x":{"field":"t","type":"quantitative","axis":null},"y":{"field":"v","type":"quantitative","axis":null},"text":{"field":"s"}}}
]
}
